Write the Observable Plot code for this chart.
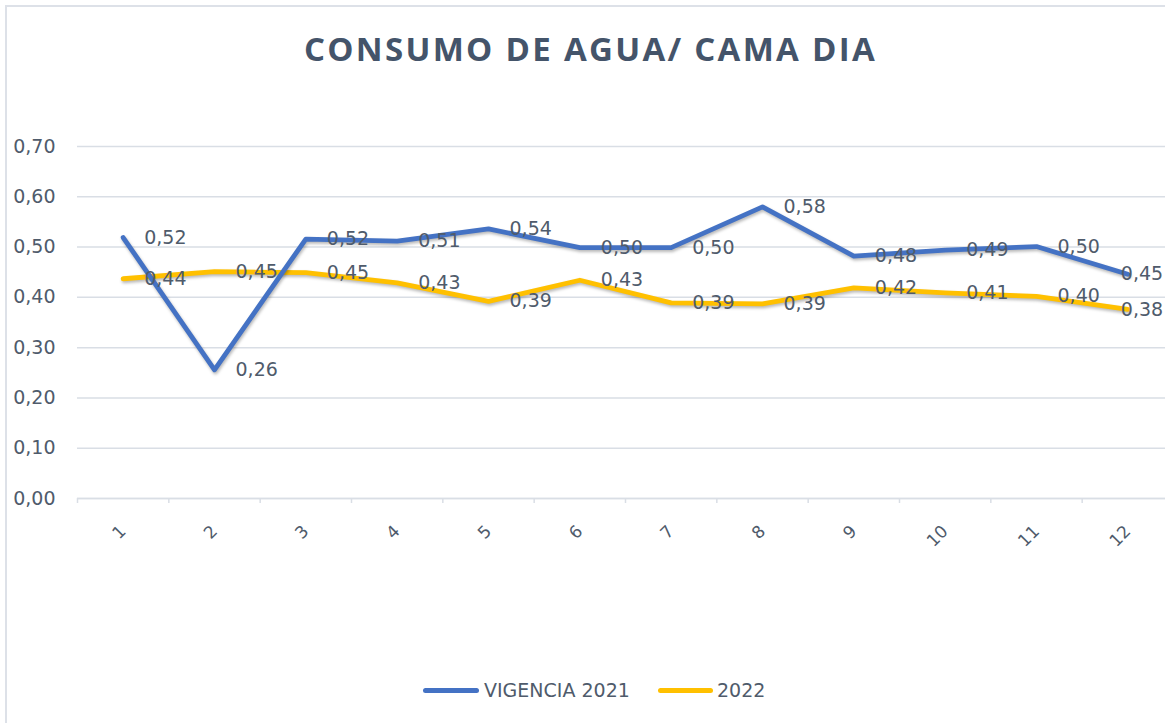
<!DOCTYPE html>
<html>
<head>
<meta charset="utf-8">
<script src="https://cdn.jsdelivr.net/npm/d3@7"></script>
<script src="https://cdn.jsdelivr.net/npm/@observablehq/plot@0.6"></script>
<style>
  html, body { margin: 0; padding: 0; background: #fff; }
  body { width: 1165px; height: 723px; overflow: hidden; position: relative; }
  #frame { position: absolute; left: 5px; top: 5px; width: 1300px; height: 800px;
           border-left: 2px solid #dde1e8; border-top: 2px solid #dde1e8; }
  #title { position: absolute; left: 0; top: 33px; width: 1181px; text-align: center;
           font-family: "Open Sans", sans-serif; font-weight: 700; font-size: 33px; line-height: 32px;
           letter-spacing: 2.3px; color: #44546a; white-space: nowrap; }
  #chart { position: absolute; left: 0; top: 100px; width: 1180px; }
  #chart g[aria-label="line"] { filter: drop-shadow(1px 2px 1.5px rgba(0,0,0,0.28)); }
  .leg { position: absolute; font-family: "DejaVu Sans", sans-serif; font-size: 19px; color: #4f5b6b;
         line-height: 20px; top: 680px; white-space: nowrap; }
  .sw { position: absolute; height: 5px; border-radius: 3px; top: 688px; }
</style>
</head>
<body>
<div id="frame"></div>
<div id="title">CONSUMO DE AGUA/ CAMA DIA</div>
<div id="chart"></div>
<div class="sw" style="left:423px;width:56px;background:#4472c4"></div>
<div class="leg" style="left:484px">VIGENCIA 2021</div>
<div class="sw" style="left:658px;width:55px;background:#ffc000"></div>
<div class="leg" style="left:717px">2022</div>
<script>
const months = [1, 2, 3, 4, 5, 6, 7, 8, 9, 10, 11, 12];
const vigencia2021 = [0.519, 0.256, 0.516, 0.512, 0.536, 0.499, 0.499, 0.580, 0.482, 0.494, 0.501, 0.446];
const serie2022 = [0.437, 0.451, 0.449, 0.429, 0.392, 0.434, 0.389, 0.387, 0.419, 0.409, 0.402, 0.376];
const yTicks = [0, 0.1, 0.2, 0.3, 0.4, 0.5, 0.6, 0.7];

const blue = "#4472c4", yellow = "#ffc000", grid = "#d9dee5", labelColor = "#4f5b6b";
const fmt = d => d.toFixed(2).replace(".", ",");

const d2021 = months.map((m, i) => ({month: m, value: vigencia2021[i]}));
const d2022 = months.map((m, i) => ({month: m, value: serie2022[i]}));
const edges = d3.range(0.5, 13, 1);
const notLast = d => d.month !== months[months.length - 1];
const isLast = d => d.month === months[months.length - 1];

const lbl = (data, filter, dx) => Plot.text(data, {
  filter, x: "month", y: "value", text: d => fmt(d.value),
  dx, textAnchor: "start", lineAnchor: "middle", fill: labelColor, fontSize: 19
});

const chart = Plot.plot({
  width: 1180, height: 550,
  marginLeft: 77, marginRight: 7, marginTop: 46, marginBottom: 152,
  style: {fontFamily: "DejaVu Sans, sans-serif", fontSize: "19px", color: labelColor, background: "transparent", overflow: "visible", maxWidth: "none"},
  x: {domain: [0.5, 12.5]},
  y: {domain: [0, 0.7]},
  marks: [
    Plot.gridY(yTicks, {stroke: grid, strokeOpacity: 1, strokeWidth: 1.5}),
    Plot.ruleY([0], {stroke: grid, strokeWidth: 1.5}),
    Plot.axisY(yTicks, {tickSize: 0, tickPadding: 22, tickFormat: fmt, label: null, fill: labelColor, fontSize: 19}),
    Plot.axisX(edges, {tickSize: 5, tickFormat: () => "", label: null, stroke: grid, strokeWidth: 1.5}),
    Plot.text(months, {x: d => d, frameAnchor: "bottom", dy: 30, rotate: -45, textAnchor: "end", lineAnchor: "middle", fill: labelColor, fontSize: 17}),
    Plot.line(d2022, {x: "month", y: "value", stroke: yellow, strokeWidth: 4.8, strokeLinejoin: "round", strokeLinecap: "round"}),
    Plot.line(d2021, {x: "month", y: "value", stroke: blue, strokeWidth: 4.8, strokeLinejoin: "round", strokeLinecap: "round"}),
    lbl(d2021, notLast, 21), lbl(d2021, isLast, -7),
    lbl(d2022, notLast, 21), lbl(d2022, isLast, -7)
  ]
});
document.getElementById("chart").appendChild(chart);
</script>
</body>
</html>
